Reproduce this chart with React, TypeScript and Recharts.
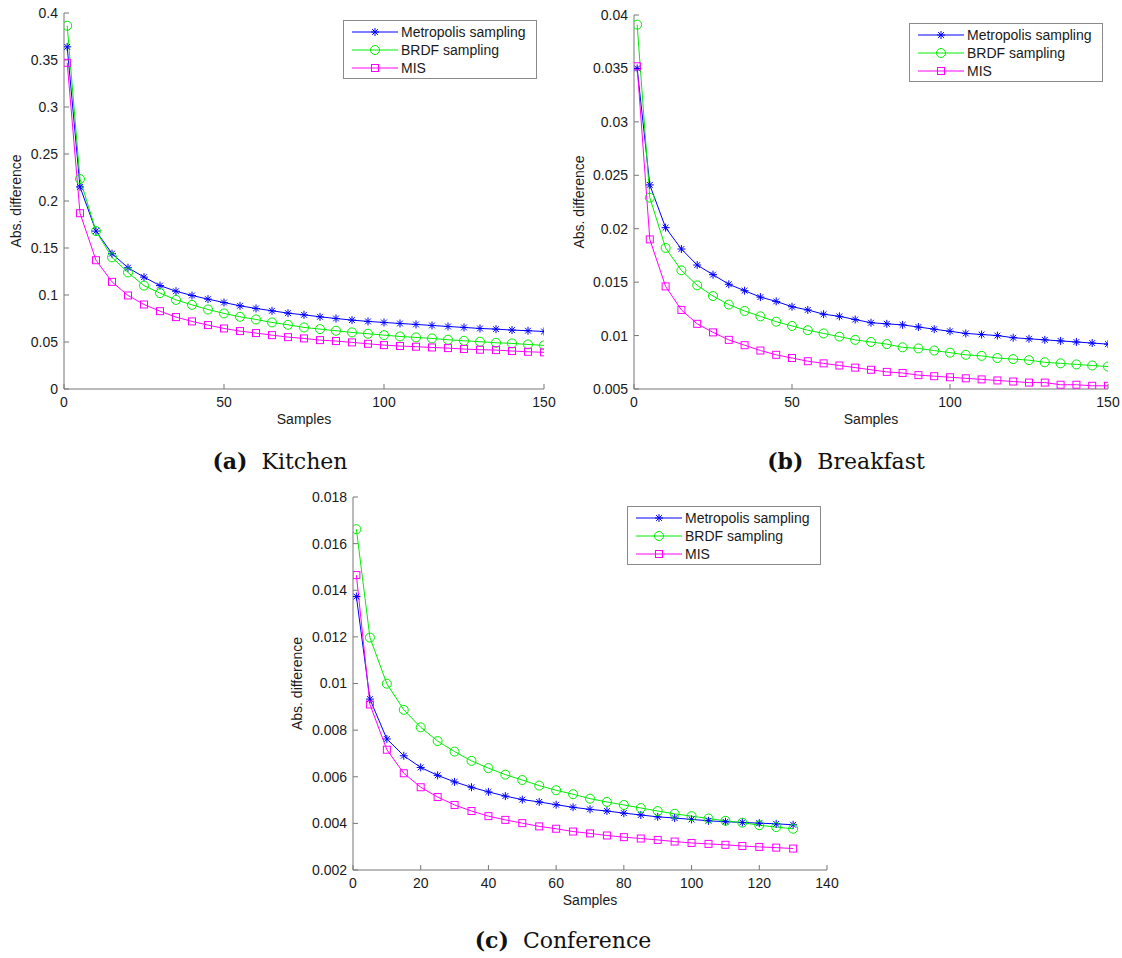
import { Legend, Line, LineChart, XAxis, YAxis } from 'recharts';

// sample counts on the x axis
const longSamples = [1, 5, 10, 15, 20, 25, 30, 35, 40, 45, 50, 55, 60, 65, 70, 75, 80, 85, 90, 95, 100, 105, 110, 115, 120, 125, 130, 135, 140, 145, 150];
const confSamples = [1, 5, 10, 15, 20, 25, 30, 35, 40, 45, 50, 55, 60, 65, 70, 75, 80, 85, 90, 95, 100, 105, 110, 115, 120, 125, 130];

// (a) Kitchen
const kitchenMetropolis = [0.364, 0.215, 0.168, 0.144, 0.129, 0.119, 0.11, 0.104, 0.0995, 0.0956, 0.092, 0.0885, 0.0857, 0.0832, 0.0807, 0.0789, 0.0768, 0.075, 0.0733, 0.0719, 0.0708, 0.0697, 0.0687, 0.0676, 0.0665, 0.0655, 0.0644, 0.0637, 0.0627, 0.062, 0.0612];
const kitchenBrdf = [0.3865, 0.2234, 0.168, 0.14, 0.124, 0.11, 0.102, 0.0948, 0.0895, 0.0846, 0.0804, 0.0768, 0.074, 0.0708, 0.0683, 0.0655, 0.0637, 0.062, 0.0602, 0.0588, 0.0573, 0.0559, 0.0549, 0.0538, 0.0524, 0.0513, 0.0503, 0.0492, 0.0485, 0.0474, 0.0464];
const kitchenMis = [0.347, 0.187, 0.137, 0.114, 0.0995, 0.0899, 0.0828, 0.0765, 0.0719, 0.068, 0.0644, 0.0616, 0.0595, 0.0573, 0.0552, 0.0538, 0.052, 0.051, 0.0496, 0.0481, 0.0467, 0.0457, 0.045, 0.0442, 0.0435, 0.0425, 0.0418, 0.0414, 0.0404, 0.0396, 0.039];

// (b) Breakfast
const breakfastMetropolis = [0.035, 0.0241, 0.0201, 0.0181, 0.0166, 0.0157, 0.0148, 0.0142, 0.0136, 0.0132, 0.0127, 0.0124, 0.012, 0.0118, 0.0115, 0.0112, 0.0111, 0.011, 0.0108, 0.0106, 0.0104, 0.0102, 0.0101, 0.01, 0.0098, 0.0097, 0.0096, 0.0095, 0.0094, 0.0093, 0.0092];
const breakfastBrdf = [0.0391, 0.0229, 0.0182, 0.0161, 0.0147, 0.0137, 0.0129, 0.0123, 0.0118, 0.0113, 0.0109, 0.0105, 0.0102, 0.0099, 0.0096, 0.0094, 0.0092, 0.0089, 0.0088, 0.0086, 0.0084, 0.0082, 0.0081, 0.0079, 0.0078, 0.0077, 0.0075, 0.0074, 0.0073, 0.0072, 0.0071];
const breakfastMis = [0.0352, 0.019, 0.0146, 0.0124, 0.0111, 0.0103, 0.0096, 0.0091, 0.0086, 0.0082, 0.0079, 0.0076, 0.0074, 0.0072, 0.007, 0.0068, 0.0066, 0.0065, 0.0063, 0.0062, 0.0061, 0.006, 0.0059, 0.0058, 0.0057, 0.0056, 0.0056, 0.0054, 0.0054, 0.0053, 0.0053];

// (c) Conference
const conferenceMetropolis = [0.01373, 0.00933, 0.00762, 0.0069, 0.0064, 0.00606, 0.00578, 0.00555, 0.00535, 0.00517, 0.00502, 0.00492, 0.0048, 0.00469, 0.0046, 0.00453, 0.00444, 0.00436, 0.00428, 0.00423, 0.00417, 0.00411, 0.00407, 0.00404, 0.00401, 0.00398, 0.00394];
const conferenceBrdf = [0.01662, 0.01197, 0.00999, 0.00887, 0.00812, 0.00753, 0.00708, 0.00668, 0.00637, 0.00609, 0.00586, 0.00562, 0.00542, 0.00525, 0.00506, 0.00492, 0.00479, 0.00466, 0.00453, 0.00441, 0.00431, 0.00421, 0.00411, 0.00403, 0.00392, 0.00384, 0.00377];
const conferenceMis = [0.01465, 0.0091, 0.00716, 0.00615, 0.00555, 0.00513, 0.00479, 0.00453, 0.00431, 0.00415, 0.00401, 0.00387, 0.00377, 0.00365, 0.00357, 0.00348, 0.00341, 0.00335, 0.00329, 0.00322, 0.00316, 0.00312, 0.00308, 0.00303, 0.00299, 0.00296, 0.00292];

// tick values
const longXTicks = [0, 50, 100, 150];
const confXTicks = [0, 20, 40, 60, 80, 100, 120, 140];
const kitchenYTicks = [0, 0.05, 0.1, 0.15, 0.2, 0.25, 0.3, 0.35, 0.4];
const breakfastYTicks = [0.005, 0.01, 0.015, 0.02, 0.025, 0.03, 0.035, 0.04];
const conferenceYTicks = [0.002, 0.004, 0.006, 0.008, 0.01, 0.012, 0.014, 0.016, 0.018];

const SERIES = [
  { key: 'metropolis', name: 'Metropolis sampling', color: '#0000ff', marker: 'star' },
  { key: 'brdf', name: 'BRDF sampling', color: '#00ee00', marker: 'circle' },
  { key: 'mis', name: 'MIS', color: '#ff00ff', marker: 'square' },
];

const AXIS = '#777777';
const TEXT = '#1a1a1a';
const SANS = '"Liberation Sans", Arial, sans-serif';

function toRows(xs: number[], a: number[], b: number[], c: number[]) {
  return xs.map((x, i) => ({ x, metropolis: a[i], brdf: b[i], mis: c[i] }));
}

const kitchenData = toRows(longSamples, kitchenMetropolis, kitchenBrdf, kitchenMis);
const breakfastData = toRows(longSamples, breakfastMetropolis, breakfastBrdf, breakfastMis);
const conferenceData = toRows(confSamples, conferenceMetropolis, conferenceBrdf, conferenceMis);

const fmt = (v: number) => String(parseFloat(v.toFixed(4)));

function Marker({ kind, cx, cy, color }: { kind: string; cx: number; cy: number; color: string }) {
  if (kind === 'circle') {
    return <circle cx={cx} cy={cy} r={4.5} fill="none" stroke={color} strokeWidth={1} />;
  }
  if (kind === 'square') {
    return <rect x={cx - 3.5} y={cy - 3.5} width={7} height={7} fill="none" stroke={color} strokeWidth={1} />;
  }
  const r = 4;
  const d = 2.9;
  return (
    <g stroke={color} strokeWidth={1}>
      <line x1={cx - r} y1={cy} x2={cx + r} y2={cy} />
      <line x1={cx} y1={cy - r} x2={cx} y2={cy + r} />
      <line x1={cx - d} y1={cy - d} x2={cx + d} y2={cy + d} />
      <line x1={cx - d} y1={cy + d} x2={cx + d} y2={cy - d} />
    </g>
  );
}

const makeDot = (kind: string, color: string) => (props: any) => {
  const { cx, cy, index } = props;
  if (cx == null || cy == null) return <g key={`dot-${index}`} />;
  return <Marker key={`dot-${index}`} kind={kind} cx={cx} cy={cy} color={color} />;
};

function LegendBox() {
  return (
    <div
      style={{
        boxSizing: 'border-box',
        width: 194,
        height: 59,
        border: '1px solid #8a8a8a',
        background: '#fff',
        paddingTop: 2,
        fontFamily: SANS,
        fontSize: 14,
        color: TEXT,
      }}
    >
      {SERIES.map((s) => (
        <div key={s.key} style={{ display: 'flex', alignItems: 'center', height: 18 }}>
          <svg width={56} height={18} style={{ flex: 'none' }}>
            <line x1={8} y1={9} x2={54} y2={9} stroke={s.color} strokeWidth={1} />
            <Marker kind={s.marker} cx={31} cy={9} color={s.color} />
          </svg>
          <span style={{ marginLeft: 1, whiteSpace: 'nowrap' }}>{s.name}</span>
        </div>
      ))}
    </div>
  );
}

interface PanelProps {
  plotLeft: number;
  plotTop: number;
  plotRight: number;
  plotBottom: number;
  data: Array<Record<string, number>>;
  xDomain: [number, number];
  xTicks: number[];
  yTicks: number[];
  yLabelGap: number;
  legendLeft: number;
  legendTop: number;
}

function Panel({ plotLeft, plotTop, plotRight, plotBottom, data, xDomain, xTicks, yTicks, yLabelGap, legendLeft, legendTop }: PanelProps) {
  const yAxisW = 70;
  const xAxisH = 45;
  const marginTop = 12;
  const marginRight = 16;
  const plotW = plotRight - plotLeft;
  const plotH = plotBottom - plotTop;
  const chartLeft = plotLeft - yAxisW;
  const chartTop = plotTop - marginTop;
  const yDomain: [number, number] = [yTicks[0], yTicks[yTicks.length - 1]];
  const tickStyle = { fill: TEXT, fontSize: 14, fontFamily: SANS };

  return (
    <div style={{ position: 'absolute', left: chartLeft, top: chartTop, fontFamily: SANS }}>
      <LineChart
        width={yAxisW + plotW + marginRight}
        height={marginTop + plotH + xAxisH}
        data={data}
        margin={{ top: marginTop, right: marginRight, left: 0, bottom: 0 }}
      >
        <XAxis
          dataKey="x"
          type="number"
          domain={xDomain}
          ticks={xTicks}
          interval={0}
          allowDataOverflow
          height={xAxisH}
          stroke={AXIS}
          tickSize={-5}
          tickMargin={13}
          tick={tickStyle}
          tickFormatter={fmt}
          label={{ value: 'Samples', position: 'center', dy: 8, fill: TEXT, fontSize: 14, fontFamily: SANS }}
        />
        <XAxis
          xAxisId="top"
          orientation="top"
          type="number"
          domain={xDomain}
          ticks={xTicks}
          interval={0}
          allowDataOverflow
          height={0}
          stroke={AXIS}
          tickSize={-5}
          tick={false}
        />
        <YAxis
          type="number"
          domain={yDomain}
          ticks={yTicks}
          interval={0}
          allowDataOverflow
          width={yAxisW}
          stroke={AXIS}
          tickSize={-5}
          tickMargin={11}
          tick={tickStyle}
          tickFormatter={fmt}
          label={{
            value: 'Abs. difference',
            angle: -90,
            position: 'center',
            dx: yAxisW / 2 - yLabelGap,
            fill: TEXT,
            fontSize: 14,
            fontFamily: SANS,
          }}
        />
        <YAxis
          yAxisId="right"
          orientation="right"
          type="number"
          domain={yDomain}
          ticks={yTicks}
          interval={0}
          allowDataOverflow
          width={0}
          stroke={AXIS}
          tickSize={-5}
          tick={false}
        />
        <Legend
          layout="horizontal"
          verticalAlign="middle"
          align="center"
          wrapperStyle={{ left: legendLeft - chartLeft, top: legendTop - chartTop, width: 194 }}
          content={() => <LegendBox />}
        />
        {SERIES.map((s) => (
          <Line
            key={s.key}
            type="linear"
            dataKey={s.key}
            name={s.name}
            stroke={s.color}
            strokeWidth={1}
            dot={makeDot(s.marker, s.color)}
            activeDot={false}
            isAnimationActive={false}
          />
        ))}
      </LineChart>
    </div>
  );
}

function Caption({ centerX, top, tag, text }: { centerX: number; top: number; tag: string; text: string }) {
  return (
    <div
      style={{
        position: 'absolute',
        left: centerX - 150,
        top,
        width: 300,
        textAlign: 'center',
        fontFamily: '"DejaVu Serif", serif',
        fontSize: 22,
        lineHeight: '26px',
        color: '#111',
        whiteSpace: 'pre',
      }}
    >
      <b>{tag}</b>
      {'  '}
      {text}
    </div>
  );
}

export default function App() {
  return (
    <div style={{ position: 'absolute', left: 0, top: 0, width: 1122, height: 958, background: '#fff' }}>
      <Panel
        plotLeft={64}
        plotTop={13}
        plotRight={544}
        plotBottom={389}
        data={kitchenData}
        xDomain={[0, 150]}
        xTicks={longXTicks}
        yTicks={kitchenYTicks}
        yLabelGap={48}
        legendLeft={343}
        legendTop={20}
      />
      <Panel
        plotLeft={634}
        plotTop={15}
        plotRight={1108}
        plotBottom={389}
        data={breakfastData}
        xDomain={[0, 150]}
        xTicks={longXTicks}
        yTicks={breakfastYTicks}
        yLabelGap={55}
        legendLeft={909}
        legendTop={23}
      />
      <Panel
        plotLeft={353}
        plotTop={497}
        plotRight={827}
        plotBottom={870}
        data={conferenceData}
        xDomain={[0, 140]}
        xTicks={confXTicks}
        yTicks={conferenceYTicks}
        yLabelGap={56}
        legendLeft={627}
        legendTop={506}
      />
      <Caption centerX={280} top={448} tag="(a)" text="Kitchen" />
      <Caption centerX={846} top={448} tag="(b)" text="Breakfast" />
      <Caption centerX={563} top={927} tag="(c)" text="Conference" />
    </div>
  );
}
